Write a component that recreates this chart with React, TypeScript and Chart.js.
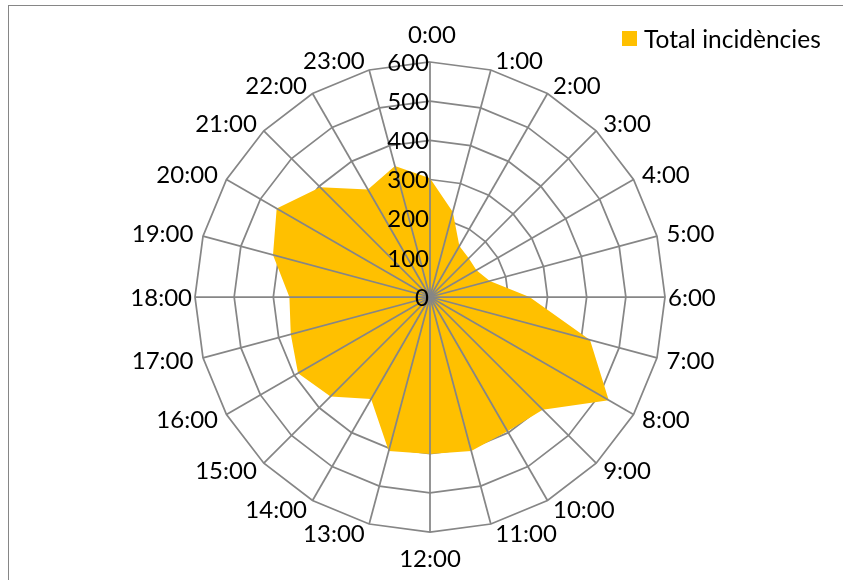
import React, { useEffect, useRef } from "react";
import { Chart, registerables } from "chart.js";

Chart.register(...registerables);

const hours: string[] = [
  "0:00", "1:00", "2:00", "3:00", "4:00", "5:00", "6:00", "7:00",
  "8:00", "9:00", "10:00", "11:00", "12:00", "13:00", "14:00", "15:00",
  "16:00", "17:00", "18:00", "19:00", "20:00", "21:00", "22:00", "23:00",
];

const totalIncidencies: number[] = [
  303, 225, 150, 140, 137, 158, 254, 423,
  527, 407, 396, 407, 401, 407, 301, 359,
  389, 368, 359, 415, 452, 396, 317, 346,
];

const seriesName = "Total incidències";
const axisMin = 0;
const axisMax = 600;
const axisStep = 100;

const FILL = "#FFC000";
const GRID = "#868686";
const FONT = "Lato, 'Noto Sans', sans-serif";

const overlayPlugin = {
  id: "excelOverlay",
  afterDatasetsDraw(chart: any) {
    const scale = chart.scales.r;
    const ctx = chart.ctx as CanvasRenderingContext2D;
    const n = chart.data.labels.length;
    ctx.save();
    // spokes on top of the fill
    ctx.strokeStyle = GRID;
    ctx.lineWidth = 1.75;
    for (let i = 0; i < n; i++) {
      const p = scale.getPointPositionForValue(i, scale.max);
      ctx.beginPath();
      ctx.moveTo(scale.xCenter, scale.yCenter);
      ctx.lineTo(p.x, p.y);
      ctx.stroke();
    }
    // tick labels
    ctx.fillStyle = "#000";
    ctx.font = `24px ${FONT}`;
    ctx.textAlign = "right";
    ctx.textBaseline = "middle";
    scale.ticks.forEach((t: any) => {
      const d = scale.getDistanceFromCenterForValue(t.value);
      ctx.fillText(String(t.value), scale.xCenter - 1, scale.yCenter - d + 1);
    });
    // point labels
    for (let i = 0; i < n; i++) {
      const p = scale.getPointPositionForValue(i, scale.max);
      const deg = (i * 360) / n;
      const a = (deg * Math.PI) / 180;
      const label = chart.data.labels[i];
      let x = p.x;
      let y = p.y;
      if (deg === 0) {
        ctx.textAlign = "center";
        x = p.x + 2;
        y = p.y - 27;
      } else if (deg === 180) {
        ctx.textAlign = "center";
        y = p.y + 27;
      } else {
        const s = Math.sin(a);
        const gx = deg % 180 === 90 ? 3 : 4 + 6 * s * s;
        y = p.y - 10 * Math.cos(a) + 1;
        if (deg < 180) {
          ctx.textAlign = "left";
          x = p.x + gx;
        } else {
          ctx.textAlign = "right";
          x = p.x - gx;
        }
      }
      ctx.fillText(label, x, y);
    }
    ctx.restore();
  },
};

export default function App() {
  const ref = useRef<HTMLCanvasElement | null>(null);
  useEffect(() => {
    if (!ref.current) return;
    const chart = new Chart(ref.current, {
      type: "radar",
      data: {
        labels: hours,
        datasets: [
          {
            label: seriesName,
            data: totalIncidencies,
            backgroundColor: FILL,
            borderWidth: 0,
            pointRadius: 0,
            fill: "origin",
          },
        ],
      },
      options: {
        responsive: false,
        animation: false,
        devicePixelRatio: 1,
        layout: { padding: { top: 56, bottom: 48, left: 121, right: 113 } },
        plugins: { legend: { display: false }, tooltip: { enabled: false } },
        elements: { line: { tension: 0 } },
        scales: {
          r: {
            min: axisMin,
            max: axisMax,
            beginAtZero: true,
            ticks: { stepSize: axisStep, display: false },
            pointLabels: { display: false },
            angleLines: { display: false },
            grid: { color: GRID, lineWidth: 1.75 },
          },
        },
      },
      plugins: [overlayPlugin],
    });
    return () => chart.destroy();
  }, []);

  return (
    <div
      style={{
        position: "absolute",
        left: 8,
        top: 5,
        width: 834,
        height: 574,
        borderLeft: "1px solid #868686",
        borderTop: "1px solid #868686",
        background: "#fff",
      }}
    >
      <canvas ref={ref} width={834} height={574} style={{ display: "block" }} />
      <div
        style={{
          position: "absolute",
          left: 613,
          top: 18,
          display: "flex",
          alignItems: "center",
          fontFamily: FONT,
          fontSize: 24.5,
          color: "#000",
          whiteSpace: "nowrap",
        }}
      >
        <span
          style={{
            display: "inline-block",
            width: 15,
            height: 15,
            background: FILL,
            marginRight: 7,
          }}
        />
        <span>{seriesName}</span>
      </div>
    </div>
  );
}
